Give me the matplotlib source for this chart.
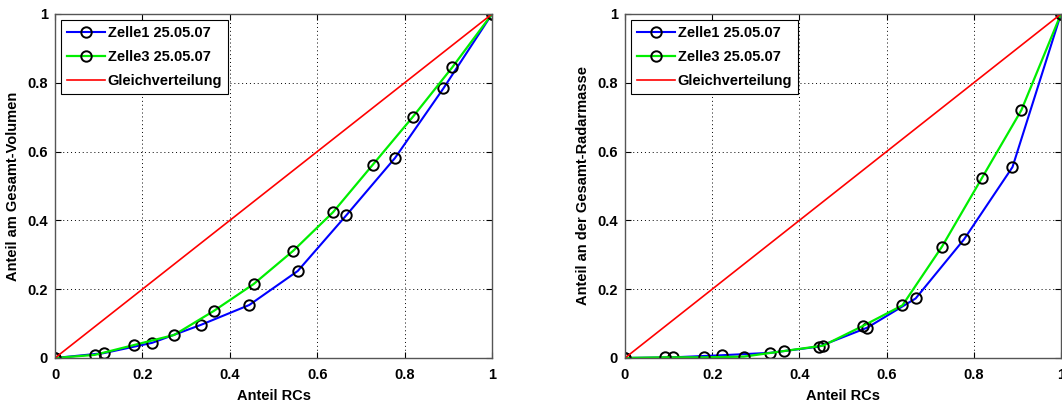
import numpy as np
import matplotlib.pyplot as plt

plt.rcParams['font.family'] = ['Liberation Sans', 'DejaVu Sans']
plt.rcParams['font.weight'] = 'bold'
plt.rcParams['font.size'] = 10.5

# x positions: Zelle1 in ninths, Zelle3 in elevenths
x_z1 = [0, 1/9, 2/9, 3/9, 4/9, 5/9, 6/9, 7/9, 8/9, 1]
x_z3 = [0, 1/11, 2/11, 3/11, 4/11, 5/11, 6/11, 7/11, 8/11, 9/11, 10/11, 1]

# left panel: volume share
vol_z1 = [0, 0.014, 0.044, 0.096, 0.154, 0.253, 0.415, 0.581, 0.784, 1]
vol_z3 = [0, 0.009, 0.038, 0.067, 0.137, 0.215, 0.312, 0.424, 0.562, 0.70, 0.845, 1]

# right panel: radar mass share
mass_z1 = [0, 0.002, 0.008, 0.015, 0.033, 0.088, 0.173, 0.345, 0.555, 1]
mass_z3 = [0, 0.002, 0.002, 0.004, 0.020, 0.036, 0.093, 0.153, 0.324, 0.522, 0.72, 1]

even = [0, 1]
ticks = [0, 0.2, 0.4, 0.6, 0.8, 1]
ticklabels = ['0', '0.2', '0.4', '0.6', '0.8', '1']

fig = plt.figure(figsize=(10.62, 4.03), dpi=100)
ax1 = fig.add_axes([0.0518, 0.1117, 0.4115, 0.8536])
ax2 = fig.add_axes([0.5885, 0.1117, 0.4105, 0.8536])

def panel(ax, y1, y3, ylabel):
    ax.plot(x_z1, y1, '-o', color='#0000ff', lw=1.5, ms=7.5, mfc='none',
            mec='k', mew=1.4, label='Zelle1 25.05.07')
    ax.plot(x_z3, y3, '-o', color='#00ee00', lw=1.6, ms=7.5, mfc='none',
            mec='k', mew=1.4, label='Zelle3 25.05.07')
    ax.plot(even, even, '-', color='#ff0000', lw=1.2, label='Gleichverteilung')
    ax.set_xlim(0, 1)
    ax.set_ylim(0, 1)
    ax.set_xticks(ticks)
    ax.set_xticklabels(ticklabels)
    ax.set_yticks(ticks)
    ax.set_yticklabels(ticklabels)
    ax.tick_params(direction='in', top=True, right=True, length=4,
                   width=0.8, labelsize=10.5)
    ax.tick_params(axis='x', pad=7)
    ax.tick_params(axis='y', pad=5)
    ax.grid(True, linestyle=(0, (1, 3)), color='k', lw=0.7)
    for s in ax.spines.values():
        s.set_color('#555555')
        s.set_linewidth(1.0)
    ax.set_xlabel('Anteil RCs', fontweight='bold', labelpad=5)
    ax.set_ylabel(ylabel, fontweight='bold', labelpad=5)
    leg = ax.legend(loc='upper left', bbox_to_anchor=(0.0, 1.0),
                    borderaxespad=0.42, fancybox=False, framealpha=1,
                    edgecolor='k', handlelength=2.6, handletextpad=0.2,
                    labelspacing=0.7, borderpad=0.4,
                    prop={'weight': 'bold', 'size': 10.5})
    leg.get_frame().set_linewidth(0.8)

panel(ax1, vol_z1, vol_z3, 'Anteil am Gesamt-Volumen')
panel(ax2, mass_z1, mass_z3, 'Anteil an der Gesamt-Radarmasse')

fig.savefig('out.png', dpi=100)
